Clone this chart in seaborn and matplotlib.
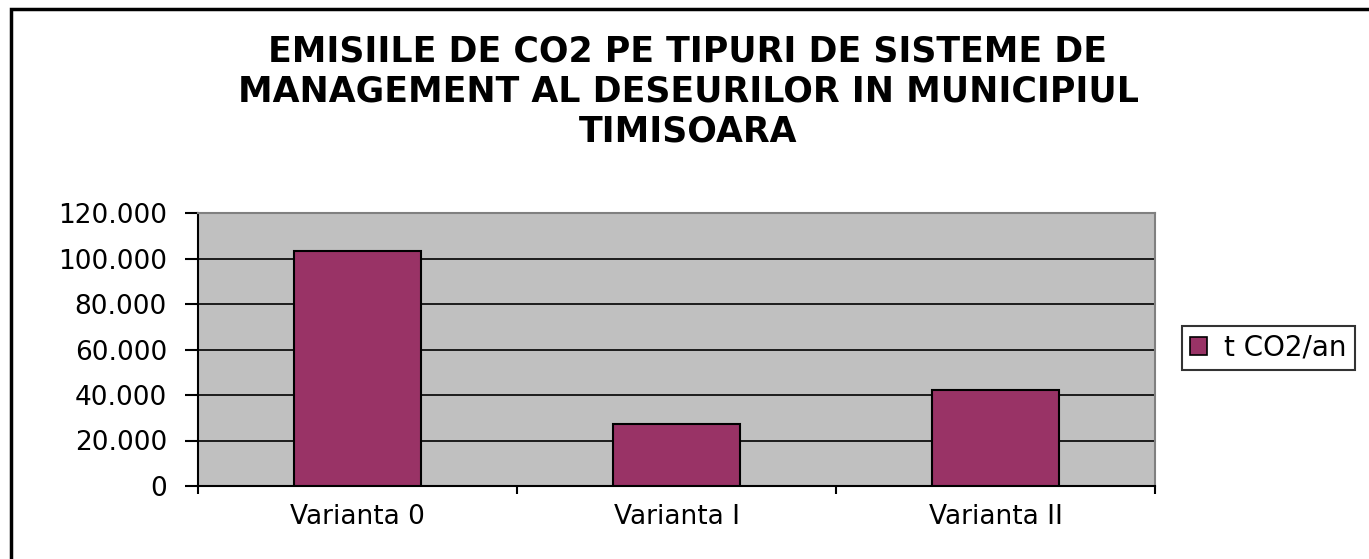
import matplotlib
matplotlib.use("Agg")
import matplotlib.pyplot as plt
import matplotlib.patches as mpatches
from matplotlib.ticker import FuncFormatter, FixedLocator
import seaborn as sns
import pandas as pd

# data
variante = ["Varianta 0", "Varianta I", "Varianta II"]
emisii = [103500, 27200, 42300]
serie = "t CO2/an"
titlu = ("EMISIILE DE CO2 PE TIPURI DE SISTEME DE\n"
         "MANAGEMENT AL DESEURILOR IN MUNICIPIUL\n"
         "TIMISOARA")

df = pd.DataFrame({"varianta": variante, "emisii": emisii})

sns.set_style("white")
plt.rcParams["font.family"] = ["DejaVu Sans"]
plt.rcParams["text.color"] = "black"
plt.rcParams["xtick.color"] = "black"
plt.rcParams["ytick.color"] = "black"

fig = plt.figure(figsize=(13.69, 5.59), dpi=100)
ax = fig.add_axes([198 / 1369, 1 - 486 / 559, (1155 - 198) / 1369, (486 - 213) / 559])

sns.barplot(data=df, x="varianta", y="emisii", color="#993366", width=0.4,
            edgecolor="black", linewidth=1.5, saturation=1, ax=ax, zorder=3)

ax.set_facecolor("#C0C0C0")
ax.set_xlim(-0.5, 2.5)
ax.set_ylim(0, 120000)
ax.set_yticks(range(0, 120001, 20000))
ax.yaxis.set_major_formatter(FuncFormatter(lambda v, p: f"{int(v):,}".replace(",", ".")))
ax.grid(axis="y", color="black", linewidth=1.2, zorder=1)
ax.set_axisbelow(True)

# category ticks between bars, labels centred
ax.xaxis.set_major_locator(FixedLocator([-0.5, 0.5, 1.5, 2.5]))
ax.xaxis.set_minor_locator(FixedLocator([0, 1, 2]))
ax.set_xticklabels([], minor=False)
ax.set_xticklabels(variante, minor=True)
ax.tick_params(axis="x", which="major", bottom=True, direction="out", length=6,
               width=1.5, color="black")
ax.tick_params(axis="x", which="minor", bottom=True, length=0, pad=13, labelsize=19,
               labelcolor="black")
ax.tick_params(axis="y", left=True, direction="out", length=9.4, width=1.5,
               color="black", labelsize=19, labelcolor="black", pad=13)
ax.set_xlabel("")
ax.set_ylabel("")

for s in ["left", "bottom"]:
    ax.spines[s].set_color("black")
    ax.spines[s].set_linewidth(1.5)
for s in ["top", "right"]:
    ax.spines[s].set_color("#808080")
    ax.spines[s].set_linewidth(1.5)

fig.text(688 / 1369, 1 - 35 / 559, titlu, ha="center", va="top", fontsize=25,
         fontweight="bold", linespacing=1.22, color="black")

handle = mpatches.Patch(facecolor="#993366", edgecolor="black", linewidth=1.2, label=serie)
leg = fig.legend(handles=[handle], loc="center left", bbox_to_anchor=(1182 / 1369, 1 - 348 / 559),
                 fontsize=20, frameon=True, fancybox=False, handlelength=0.6,
                 handleheight=0.6, handletextpad=0.6, borderpad=0.3, borderaxespad=0)
leg.get_frame().set_edgecolor("black")
leg.get_frame().set_linewidth(1.5)
for t in leg.get_texts():
    t.set_color("black")

# outer chart frame
fig.patches.append(mpatches.Rectangle((11 / 1369, -0.1), 1.2, 1 - 9 / 559 + 0.1,
                                      transform=fig.transFigure, fill=False,
                                      edgecolor="black", linewidth=2.5))

fig.savefig("out.png", dpi=100)
